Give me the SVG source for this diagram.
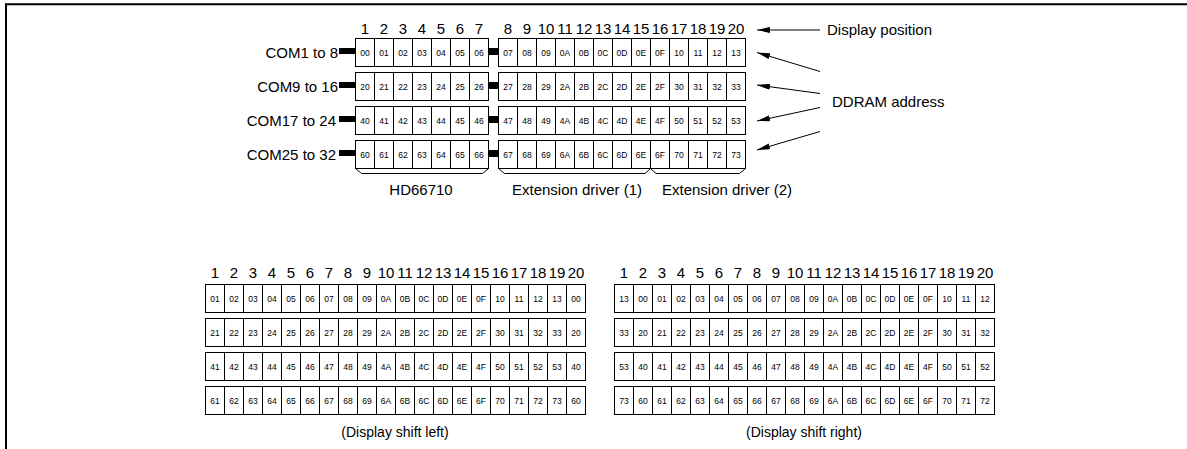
<svg xmlns="http://www.w3.org/2000/svg" xmlns:xlink="http://www.w3.org/1999/xlink" width="1187" height="449" viewBox="0 0 1187 449">
<style>
text{font-family:"Liberation Sans",Arial,sans-serif;fill:#000}
.lbl{font-size:15px}
.num{font-size:15px;text-anchor:middle}
.c{font-size:8.5px;text-anchor:middle}
.cap{font-size:14px;text-anchor:middle}
.box{fill:#fff;stroke:#000;stroke-width:1}
.div{fill:none;stroke:#000;stroke-width:1}
.arr{fill:none;stroke:#000;stroke-width:1;marker-end:url(#ah)}
.br{fill:none;stroke:#000;stroke-width:1}
</style>
<defs>
<marker id="ah" viewBox="0 0 13 6" refX="13" refY="3" markerWidth="13" markerHeight="6" orient="auto" markerUnits="userSpaceOnUse"><path d="M0,0 L13,3 L0,6 z" fill="#000"/></marker>
<g id="fg1"><rect class="box" x="355.5" y="0" width="133" height="28"/><path class="div" d="M374.5 0v28M393.5 0v28M412.5 0v28M431.5 0v28M450.5 0v28M469.5 0v28"/></g>
<g id="fg2"><rect class="box" x="498.5" y="0" width="247" height="28"/><path class="div" d="M517.5 0v28M536.5 0v28M555.5 0v28M574.5 0v28M593.5 0v28M612.5 0v28M631.5 0v28M650.5 0v28M669.5 0v28M688.5 0v28M707.5 0v28M726.5 0v28"/></g>
<g id="fbl"><rect class="box" x="205.5" y="0" width="380" height="28"/><path class="div" d="M224.5 0v28M243.5 0v28M262.5 0v28M281.5 0v28M300.5 0v28M319.5 0v28M338.5 0v28M357.5 0v28M376.5 0v28M395.5 0v28M414.5 0v28M433.5 0v28M452.5 0v28M471.5 0v28M490.5 0v28M509.5 0v28M528.5 0v28M547.5 0v28M566.5 0v28"/></g>
<g id="fbr"><rect class="box" x="614.5" y="0" width="380" height="28"/><path class="div" d="M633.5 0v28M652.5 0v28M671.5 0v28M690.5 0v28M709.5 0v28M728.5 0v28M747.5 0v28M766.5 0v28M785.5 0v28M804.5 0v28M823.5 0v28M842.5 0v28M861.5 0v28M880.5 0v28M899.5 0v28M918.5 0v28M937.5 0v28M956.5 0v28M975.5 0v28"/></g>
</defs>
<rect width="1187" height="449" fill="#fff"/>
<g id="frame"><path d="M6 449V4.3H1187" fill="none" stroke="#000" stroke-width="2"/></g>

<g id="display-positions-top">
<text class="num" y="34"><tspan x="365">1</tspan><tspan x="384">2</tspan><tspan x="403">3</tspan><tspan x="422">4</tspan><tspan x="441">5</tspan><tspan x="460">6</tspan><tspan x="479">7</tspan><tspan x="508">8</tspan><tspan x="527">9</tspan><tspan x="546">10</tspan><tspan x="565">11</tspan><tspan x="584">12</tspan><tspan x="603">13</tspan><tspan x="622">14</tspan><tspan x="641">15</tspan><tspan x="660">16</tspan><tspan x="679">17</tspan><tspan x="698">18</tspan><tspan x="717">19</tspan><tspan x="736">20</tspan></text>
</g>

<g id="com-labels">
<text class="lbl" x="338" y="57.5" text-anchor="end">COM1 to 8</text>
<text class="lbl" x="338" y="91.5" text-anchor="end">COM9 to 16</text>
<text class="lbl" x="336" y="125.5" text-anchor="end">COM17 to 24</text>
<text class="lbl" x="336" y="159.5" text-anchor="end">COM25 to 32</text>
</g>

<g id="ddram-row1">
<use xlink:href="#fg1" href="#fg1" y="38.5"/><use xlink:href="#fg2" href="#fg2" y="38.5"/>
<text class="c" y="55.5"><tspan x="365">00</tspan><tspan x="384">01</tspan><tspan x="403">02</tspan><tspan x="422">03</tspan><tspan x="441">04</tspan><tspan x="460">05</tspan><tspan x="479">06</tspan><tspan x="508">07</tspan><tspan x="527">08</tspan><tspan x="546">09</tspan><tspan x="565">0A</tspan><tspan x="584">0B</tspan><tspan x="603">0C</tspan><tspan x="622">0D</tspan><tspan x="641">0E</tspan><tspan x="660">0F</tspan><tspan x="679">10</tspan><tspan x="698">11</tspan><tspan x="717">12</tspan><tspan x="736">13</tspan></text>
</g>
<g id="ddram-row2">
<use xlink:href="#fg1" href="#fg1" y="72.5"/><use xlink:href="#fg2" href="#fg2" y="72.5"/>
<text class="c" y="89.5"><tspan x="365">20</tspan><tspan x="384">21</tspan><tspan x="403">22</tspan><tspan x="422">23</tspan><tspan x="441">24</tspan><tspan x="460">25</tspan><tspan x="479">26</tspan><tspan x="508">27</tspan><tspan x="527">28</tspan><tspan x="546">29</tspan><tspan x="565">2A</tspan><tspan x="584">2B</tspan><tspan x="603">2C</tspan><tspan x="622">2D</tspan><tspan x="641">2E</tspan><tspan x="660">2F</tspan><tspan x="679">30</tspan><tspan x="698">31</tspan><tspan x="717">32</tspan><tspan x="736">33</tspan></text>
</g>
<g id="ddram-row3">
<use xlink:href="#fg1" href="#fg1" y="106.5"/><use xlink:href="#fg2" href="#fg2" y="106.5"/>
<text class="c" y="123.5"><tspan x="365">40</tspan><tspan x="384">41</tspan><tspan x="403">42</tspan><tspan x="422">43</tspan><tspan x="441">44</tspan><tspan x="460">45</tspan><tspan x="479">46</tspan><tspan x="508">47</tspan><tspan x="527">48</tspan><tspan x="546">49</tspan><tspan x="565">4A</tspan><tspan x="584">4B</tspan><tspan x="603">4C</tspan><tspan x="622">4D</tspan><tspan x="641">4E</tspan><tspan x="660">4F</tspan><tspan x="679">50</tspan><tspan x="698">51</tspan><tspan x="717">52</tspan><tspan x="736">53</tspan></text>
</g>
<g id="ddram-row4">
<use xlink:href="#fg1" href="#fg1" y="140.5"/><use xlink:href="#fg2" href="#fg2" y="140.5"/>
<text class="c" y="157.5"><tspan x="365">60</tspan><tspan x="384">61</tspan><tspan x="403">62</tspan><tspan x="422">63</tspan><tspan x="441">64</tspan><tspan x="460">65</tspan><tspan x="479">66</tspan><tspan x="508">67</tspan><tspan x="527">68</tspan><tspan x="546">69</tspan><tspan x="565">6A</tspan><tspan x="584">6B</tspan><tspan x="603">6C</tspan><tspan x="622">6D</tspan><tspan x="641">6E</tspan><tspan x="660">6F</tspan><tspan x="679">70</tspan><tspan x="698">71</tspan><tspan x="717">72</tspan><tspan x="736">73</tspan></text>
</g>

<g id="driver-braces">
<path class="br" d="M355.5 168.5L361.5 173.5H482.5L488.5 168.5"/>
<path class="br" d="M498.5 168.5L504.5 173.5H645L650.5 168.5L656 173.5H739.5L745.5 168.5"/>
<text class="lbl" x="421" y="195" text-anchor="middle">HD66710</text>
<text class="lbl" x="577" y="195" text-anchor="middle">Extension driver (1)</text>
<text class="lbl" x="727" y="195" text-anchor="middle">Extension driver (2)</text>
</g>

<g id="annotations">
<text class="lbl" x="827" y="34.5">Display position</text>
<text class="lbl" x="832" y="107">DDRAM address</text>
</g>

<g id="connectors">
<path fill="#000" d="M339 48h17v6h-17zM339 82h17v6h-17zM339 116h17v6h-17zM339 150h17v6h-17z"/>
<path fill="#000" d="M489 48h10v7h-10zM489 82h10v7h-10zM489 116h10v7h-10zM489 150h10v7h-10z"/>
<line class="arr" x1="820" y1="30" x2="757" y2="30"/>
<line class="arr" x1="820" y1="71.5" x2="757" y2="52.5"/>
<line class="arr" x1="820" y1="93.5" x2="757" y2="85"/>
<line class="arr" x1="820" y1="107.5" x2="757" y2="121"/>
<line class="arr" x1="820" y1="131.5" x2="757" y2="150"/>
</g>

<g id="display-positions-left">
<text class="num" y="278"><tspan x="215">1</tspan><tspan x="234">2</tspan><tspan x="253">3</tspan><tspan x="272">4</tspan><tspan x="291">5</tspan><tspan x="310">6</tspan><tspan x="329">7</tspan><tspan x="348">8</tspan><tspan x="367">9</tspan><tspan x="386">10</tspan><tspan x="405">11</tspan><tspan x="424">12</tspan><tspan x="443">13</tspan><tspan x="462">14</tspan><tspan x="481">15</tspan><tspan x="500">16</tspan><tspan x="519">17</tspan><tspan x="538">18</tspan><tspan x="557">19</tspan><tspan x="576">20</tspan></text>
</g>
<g id="shift-left-table">
<use xlink:href="#fbl" href="#fbl" y="284.5"/><use xlink:href="#fbl" href="#fbl" y="318.5"/><use xlink:href="#fbl" href="#fbl" y="352.5"/><use xlink:href="#fbl" href="#fbl" y="386.5"/>
<text class="c" y="301.5"><tspan x="215">01</tspan><tspan x="234">02</tspan><tspan x="253">03</tspan><tspan x="272">04</tspan><tspan x="291">05</tspan><tspan x="310">06</tspan><tspan x="329">07</tspan><tspan x="348">08</tspan><tspan x="367">09</tspan><tspan x="386">0A</tspan><tspan x="405">0B</tspan><tspan x="424">0C</tspan><tspan x="443">0D</tspan><tspan x="462">0E</tspan><tspan x="481">0F</tspan><tspan x="500">10</tspan><tspan x="519">11</tspan><tspan x="538">12</tspan><tspan x="557">13</tspan><tspan x="576">00</tspan></text>
<text class="c" y="335.5"><tspan x="215">21</tspan><tspan x="234">22</tspan><tspan x="253">23</tspan><tspan x="272">24</tspan><tspan x="291">25</tspan><tspan x="310">26</tspan><tspan x="329">27</tspan><tspan x="348">28</tspan><tspan x="367">29</tspan><tspan x="386">2A</tspan><tspan x="405">2B</tspan><tspan x="424">2C</tspan><tspan x="443">2D</tspan><tspan x="462">2E</tspan><tspan x="481">2F</tspan><tspan x="500">30</tspan><tspan x="519">31</tspan><tspan x="538">32</tspan><tspan x="557">33</tspan><tspan x="576">20</tspan></text>
<text class="c" y="369.5"><tspan x="215">41</tspan><tspan x="234">42</tspan><tspan x="253">43</tspan><tspan x="272">44</tspan><tspan x="291">45</tspan><tspan x="310">46</tspan><tspan x="329">47</tspan><tspan x="348">48</tspan><tspan x="367">49</tspan><tspan x="386">4A</tspan><tspan x="405">4B</tspan><tspan x="424">4C</tspan><tspan x="443">4D</tspan><tspan x="462">4E</tspan><tspan x="481">4F</tspan><tspan x="500">50</tspan><tspan x="519">51</tspan><tspan x="538">52</tspan><tspan x="557">53</tspan><tspan x="576">40</tspan></text>
<text class="c" y="403.5"><tspan x="215">61</tspan><tspan x="234">62</tspan><tspan x="253">63</tspan><tspan x="272">64</tspan><tspan x="291">65</tspan><tspan x="310">66</tspan><tspan x="329">67</tspan><tspan x="348">68</tspan><tspan x="367">69</tspan><tspan x="386">6A</tspan><tspan x="405">6B</tspan><tspan x="424">6C</tspan><tspan x="443">6D</tspan><tspan x="462">6E</tspan><tspan x="481">6F</tspan><tspan x="500">70</tspan><tspan x="519">71</tspan><tspan x="538">72</tspan><tspan x="557">73</tspan><tspan x="576">60</tspan></text>
<text class="cap" x="395" y="437">(Display shift left)</text>
</g>

<g id="display-positions-right">
<text class="num" y="278"><tspan x="624">1</tspan><tspan x="643">2</tspan><tspan x="662">3</tspan><tspan x="681">4</tspan><tspan x="700">5</tspan><tspan x="719">6</tspan><tspan x="738">7</tspan><tspan x="757">8</tspan><tspan x="776">9</tspan><tspan x="795">10</tspan><tspan x="814">11</tspan><tspan x="833">12</tspan><tspan x="852">13</tspan><tspan x="871">14</tspan><tspan x="890">15</tspan><tspan x="909">16</tspan><tspan x="928">17</tspan><tspan x="947">18</tspan><tspan x="966">19</tspan><tspan x="985">20</tspan></text>
</g>
<g id="shift-right-table">
<use xlink:href="#fbr" href="#fbr" y="284.5"/><use xlink:href="#fbr" href="#fbr" y="318.5"/><use xlink:href="#fbr" href="#fbr" y="352.5"/><use xlink:href="#fbr" href="#fbr" y="386.5"/>
<text class="c" y="301.5"><tspan x="624">13</tspan><tspan x="643">00</tspan><tspan x="662">01</tspan><tspan x="681">02</tspan><tspan x="700">03</tspan><tspan x="719">04</tspan><tspan x="738">05</tspan><tspan x="757">06</tspan><tspan x="776">07</tspan><tspan x="795">08</tspan><tspan x="814">09</tspan><tspan x="833">0A</tspan><tspan x="852">0B</tspan><tspan x="871">0C</tspan><tspan x="890">0D</tspan><tspan x="909">0E</tspan><tspan x="928">0F</tspan><tspan x="947">10</tspan><tspan x="966">11</tspan><tspan x="985">12</tspan></text>
<text class="c" y="335.5"><tspan x="624">33</tspan><tspan x="643">20</tspan><tspan x="662">21</tspan><tspan x="681">22</tspan><tspan x="700">23</tspan><tspan x="719">24</tspan><tspan x="738">25</tspan><tspan x="757">26</tspan><tspan x="776">27</tspan><tspan x="795">28</tspan><tspan x="814">29</tspan><tspan x="833">2A</tspan><tspan x="852">2B</tspan><tspan x="871">2C</tspan><tspan x="890">2D</tspan><tspan x="909">2E</tspan><tspan x="928">2F</tspan><tspan x="947">30</tspan><tspan x="966">31</tspan><tspan x="985">32</tspan></text>
<text class="c" y="369.5"><tspan x="624">53</tspan><tspan x="643">40</tspan><tspan x="662">41</tspan><tspan x="681">42</tspan><tspan x="700">43</tspan><tspan x="719">44</tspan><tspan x="738">45</tspan><tspan x="757">46</tspan><tspan x="776">47</tspan><tspan x="795">48</tspan><tspan x="814">49</tspan><tspan x="833">4A</tspan><tspan x="852">4B</tspan><tspan x="871">4C</tspan><tspan x="890">4D</tspan><tspan x="909">4E</tspan><tspan x="928">4F</tspan><tspan x="947">50</tspan><tspan x="966">51</tspan><tspan x="985">52</tspan></text>
<text class="c" y="403.5"><tspan x="624">73</tspan><tspan x="643">60</tspan><tspan x="662">61</tspan><tspan x="681">62</tspan><tspan x="700">63</tspan><tspan x="719">64</tspan><tspan x="738">65</tspan><tspan x="757">66</tspan><tspan x="776">67</tspan><tspan x="795">68</tspan><tspan x="814">69</tspan><tspan x="833">6A</tspan><tspan x="852">6B</tspan><tspan x="871">6C</tspan><tspan x="890">6D</tspan><tspan x="909">6E</tspan><tspan x="928">6F</tspan><tspan x="947">70</tspan><tspan x="966">71</tspan><tspan x="985">72</tspan></text>
<text class="cap" x="804" y="437">(Display shift right)</text>
</g>
</svg>
